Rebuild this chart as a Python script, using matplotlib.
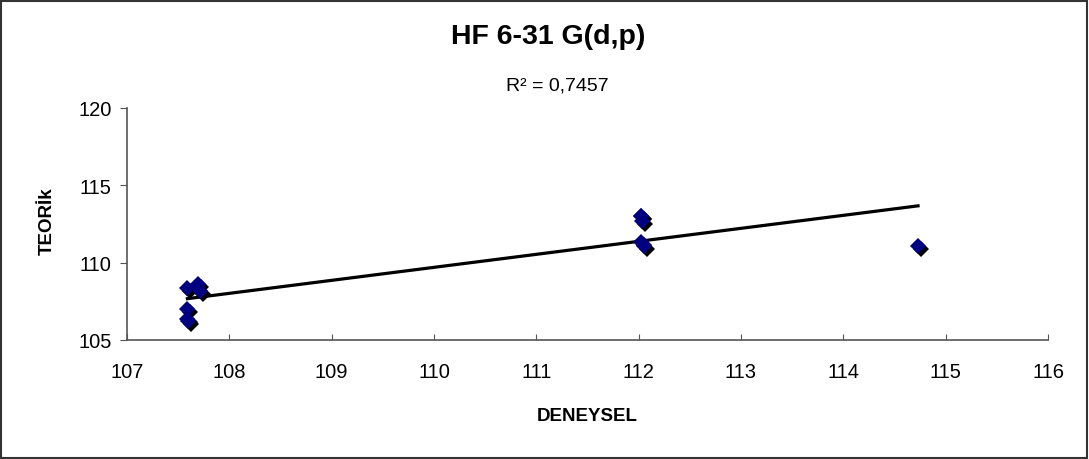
import numpy as np
import matplotlib.pyplot as plt
import matplotlib.transforms as mtransforms
from matplotlib.patches import Rectangle

plt.rcParams['font.family'] = ['Liberation Sans', 'DejaVu Sans']

# DENEYSEL (x) vs TEORiK (y) values (some diamonds overlap)
deneysel = [107.59, 107.69, 107.71, 107.59, 107.59, 107.60, 112.02, 112.03, 112.02, 112.05, 112.02, 114.73]
teorik = [108.33, 108.61, 108.15, 106.99, 106.39, 106.20, 113.00, 112.71, 111.35, 111.09, 113.00, 111.09]
r2_text = 'R² = 0,7457'
x_ticks = [107, 108, 109, 110, 111, 112, 113, 114, 115, 116]
y_ticks = [105, 110, 115, 120]

W, H = 1089, 460
fig = plt.figure(figsize=(W / 100, H / 100), dpi=100)
fig.patches.append(Rectangle((1 / W, 1 / H), 1 - 3 / W, 1 - 3 / H, transform=fig.transFigure,
                             fill=False, edgecolor='#333333', linewidth=1.5))

ax = fig.add_axes([127 / W, 1 - 341 / H, (1048 - 127) / W, (341 - 109) / H])

# linear trendline
k, b = np.polyfit(deneysel, teorik, 1)
xs = np.array([min(deneysel), max(deneysel)])
ax.plot(xs, k * xs + b, color='black', linewidth=2.3, zorder=2)

# diamonds with the black drop shadow
shadow = mtransforms.offset_copy(ax.transData, fig=fig, x=3, y=-3, units='dots')
ax.plot(deneysel, teorik, 'D', color='black', markersize=8.5, transform=shadow,
        markeredgewidth=0, zorder=3)
ax.plot(deneysel, teorik, 'D', color='#000080', markersize=8.5, markeredgewidth=0, zorder=4)

ax.set_xlim(107, 116)
ax.set_ylim(105, 120)
ax.set_xticks(x_ticks)
ax.set_yticks(y_ticks)
ax.tick_params(axis='x', direction='in', length=4, labelsize=14.5, pad=16, color='#555555')
ax.tick_params(axis='y', direction='out', length=5, labelsize=14.5, pad=6, color='#555555')
for s in ['top', 'right']:
    ax.spines[s].set_visible(False)
for s in ['left', 'bottom']:
    ax.spines[s].set_color('#555555')
    ax.spines[s].set_linewidth(1.2)

fig.text(548 / W, 1 - 37 / H, 'HF 6-31 G(d,p)', ha='center', va='center',
         fontsize=20.5, fontweight='bold')
fig.text(557 / W, 1 - 86 / H, r2_text, ha='center', va='center', fontsize=14)
fig.text(587 / W, 1 - 417 / H, 'DENEYSEL', ha='center', va='center',
         fontsize=13.5, fontweight='bold')
fig.text(47 / W, 1 - 221 / H, 'TEORİk', ha='center', va='center', rotation=90,
         fontsize=13.5, fontweight='bold')

fig.savefig('out.png', dpi=100)
